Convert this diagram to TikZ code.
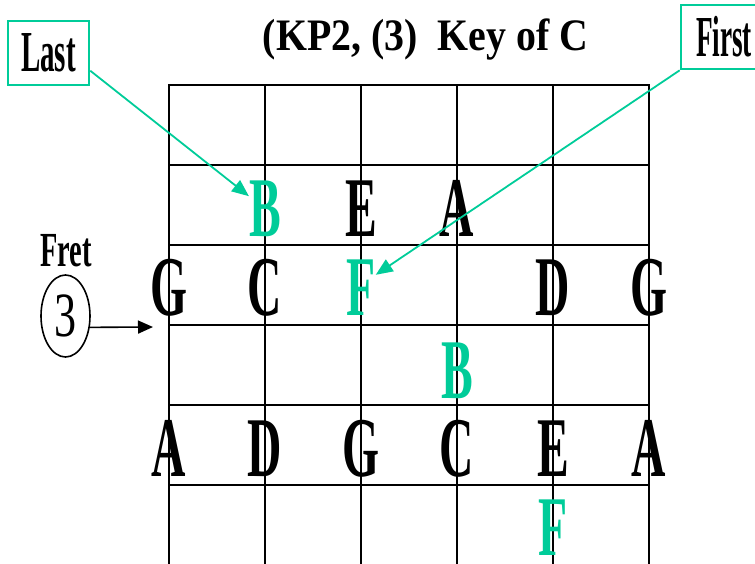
\documentclass[tikz,border=0pt]{standalone}
\usepackage{fontspec}
\setmainfont{Liberation Serif}
\usetikzlibrary{arrows.meta,shapes.geometric}
\definecolor{tealg}{RGB}{0,204,153}
\newcommand{\gl}[1]{\scalebox{0.56}[1]{\fontsize{85}{85}\selectfont\bfseries #1}}
\begin{document}
\begin{tikzpicture}[x=1pt,y=-1pt,
  gridline/.style={line width=2.6pt,line cap=rect},
  note/.style={inner sep=0pt,anchor=base},
  blk/.style={note,text=black},
  grn/.style={note,text=tealg},
  labelbox/.style={draw=tealg,line width=2.6pt,inner sep=0pt,minimum height=64pt},
  gline/.style={draw=tealg,line width=1.8pt,-{Triangle[length=17pt,width=14pt]}}]
\useasboundingbox (0,0) rectangle (755,563);
% grid
\foreach \x in {169,265,361,457,553,649} \draw[gridline] (\x,85) -- (\x,570);
\foreach \y in {85,165,245,325,405,485} \draw[gridline] (169,\y) -- (649,\y);
% title
\node[note] (title) at (425.5,50) {\scalebox{0.885}[1]{\fontsize{45}{45}\selectfont\bfseries (KP2, (3)\ \ Key of C}};
% row 2
\node[grn] (B1) at (265,236) {\gl{B}};
\node[blk] (E1) at (361,236) {\gl{E}};
\node[blk] (A1) at (457,236) {\gl{A}};
% row 3
\node[blk] (G1) at (169,315) {\gl{G}};
\node[blk] (C1) at (265,315) {\gl{C}};
\node[grn] (F1) at (361,315) {\gl{F}};
\node[blk] (D1) at (553,315) {\gl{D}};
\node[blk] (G2) at (649,315) {\gl{G}};
% row 4
\node[grn] (B2) at (457,398) {\gl{B}};
% row 5
\node[blk] (A2) at (169,476) {\gl{A}};
\node[blk] (D2) at (265,476) {\gl{D}};
\node[blk] (G3) at (361,476) {\gl{G}};
\node[blk] (C2) at (457,476) {\gl{C}};
\node[blk] (E2) at (553,476) {\gl{E}};
\node[blk] (A3) at (649,476) {\gl{A}};
% row 6
\node[grn] (F2) at (553,555) {\gl{F}};
% labels
\node[labelbox,minimum width=81pt] (last) at (48.5,53) {\scalebox{0.5}[1]{\fontsize{58}{58}\selectfont\bfseries Last}};
\node[labelbox,minimum width=86pt] (first) at (724,37) {\scalebox{0.47}[1]{\fontsize{58}{58}\selectfont\bfseries First}};
\draw[gline] (last.-23) -- (B1.143);
\draw[gline] (first.south west) -- (F1.40);
% fret
\node[note] (fret) at (66,266) {\scalebox{0.58}[1]{\fontsize{49}{49}\selectfont\bfseries Fret}};
\node[draw,ellipse,line width=1.6pt,inner sep=0pt,minimum width=49pt,minimum height=82pt] (circ) at (65.5,316) {\scalebox{0.7}[1]{\fontsize{63}{63}\selectfont 3}};
\coordinate (fretend) at (153,327);
\draw[line width=1.6pt,-{Triangle[length=15pt,width=13pt]}] (circ.-25) -- (fretend);
\end{tikzpicture}
\end{document}
